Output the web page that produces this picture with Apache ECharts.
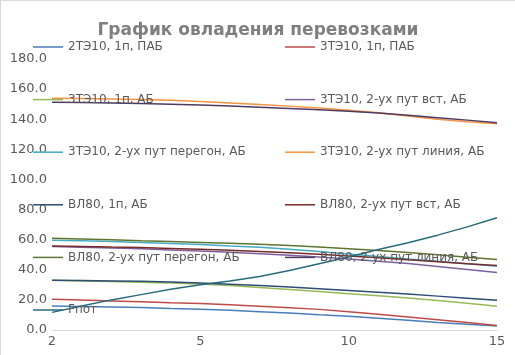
<!DOCTYPE html>
<html>
<head>
<meta charset="utf-8">
<script src="https://cdn.jsdelivr.net/npm/echarts@6/dist/echarts.min.js"></script>
<style>
  html, body { margin: 0; padding: 0; background: #fff; }
  #chart { width: 515px; height: 355px; box-sizing: border-box; border-top: 1px solid #d9d9d9; border-left: 1px solid #d9d9d9; }
</style>
</head>
<body>
<div id="chart"></div>
<script>
// значения по оси X (подписи показываются только у 2, 5, 10, 15)
const categories = ['2', '2.6', '3.2', '3.8', '4.4', '5', '6', '7', '8', '9', '10', '11', '12', '13', '14', '15'];

const names = [
  '2ТЭ10, 1п, ПАБ', '3ТЭ10, 1п, ПАБ', '3ТЭ10, 1п, АБ', '3ТЭ10, 2-ух пут вст, АБ',
  '3ТЭ10, 2-ух пут перегон, АБ', '3ТЭ10, 2-ух пут линия, АБ', 'ВЛ80, 1п, АБ', 'ВЛ80, 2-ух пут вст, АБ',
  'ВЛ80, 2-ух пут перегон, АБ', 'ВЛ80, 2-ух пут линия, АБ', 'Fпот'
];

const te2_1p_pab = [15.9, 15.6, 15.3, 15.0, 14.3, 13.7, 13.1, 12.2, 11.3, 10.2, 9.2, 7.8, 6.4, 5.0, 3.8, 2.6];
const te3_1p_pab = [20.4, 19.9, 19.3, 18.7, 18.1, 17.6, 16.8, 15.8, 14.8, 13.7, 12.2, 10.4, 8.6, 6.8, 5.0, 3.0];
const te3_1p_ab = [33.0, 32.6, 32.2, 31.7, 31.2, 30.6, 29.6, 28.3, 26.9, 25.5, 24.1, 22.7, 21.2, 19.6, 17.7, 15.7];
const te3_vst_ab = [55.4, 55.0, 54.5, 53.9, 53.2, 52.5, 51.6, 50.7, 49.7, 48.5, 47.2, 45.7, 44.1, 42.2, 40.2, 38.2];
const te3_peregon_ab = [59.6, 59.2, 58.7, 58.2, 57.5, 56.8, 55.8, 54.9, 53.6, 52.1, 50.5, 48.9, 47.2, 45.6, 44.0, 42.4];
const te3_liniya_ab = [154.0, 153.8, 153.5, 153.1, 152.6, 151.8, 150.8, 149.8, 148.7, 147.4, 146.0, 144.3, 142.2, 140.0, 138.4, 137.0];
const vl80_1p_ab = [33.0, 32.8, 32.6, 32.3, 31.8, 31.2, 30.4, 29.5, 28.5, 27.4, 26.3, 25.1, 23.9, 22.5, 21.1, 19.7];
const vl80_vst_ab = [55.8, 55.5, 55.1, 54.8, 54.2, 53.6, 52.9, 52.2, 51.3, 50.3, 49.2, 48.0, 46.6, 45.3, 44.0, 42.8];
const vl80_peregon_ab = [61.0, 60.5, 60.0, 59.3, 58.8, 58.2, 57.6, 57.0, 56.2, 55.2, 54.0, 52.8, 51.4, 49.9, 48.4, 46.8];
const vl80_liniya_ab = [151.3, 151.1, 150.8, 150.4, 150.0, 149.4, 148.7, 148.0, 147.2, 146.3, 145.3, 144.1, 142.6, 141.0, 139.4, 137.7];
const fpot = [11.7, 16.0, 20.0, 23.5, 27.0, 30.0, 32.5, 35.5, 39.5, 44.0, 48.5, 53.5, 58.0, 63.0, 68.5, 74.6];

const values = [te2_1p_pab, te3_1p_pab, te3_1p_ab, te3_vst_ab, te3_peregon_ab, te3_liniya_ab,
  vl80_1p_ab, vl80_vst_ab, vl80_peregon_ab, vl80_liniya_ab, fpot];

// палитра как в Excel
const colors = ['#4a7ebb', '#be4b48', '#98b954', '#7d60a0', '#46aac5', '#f69240',
  '#2c4d75', '#772c2a', '#5f7530', '#4d3b62', '#276a7c'];

const myChart = echarts.init(document.getElementById('chart'));

const legendBase = {
  orient: 'vertical',
  icon: 'rect',
  itemWidth: 30,
  itemHeight: 1.5,
  itemGap: 38.6,
  textStyle: { color: '#595959', fontSize: 12, fontFamily: 'DejaVu Sans', lineHeight: 14 }
};

const option = {
  animation: false,
  color: colors,
  title: {
    text: 'График овладения перевозками',
    left: 'center',
    top: 16,
    textStyle: { color: '#7f7f7f', fontSize: 17, fontWeight: 'bold', fontFamily: 'DejaVu Sans' }
  },
  legend: [
    Object.assign({}, legendBase, { left: 27, top: 34, data: names.filter((n, i) => i % 2 === 0) }),
    Object.assign({}, legendBase, { left: 279, top: 34, data: names.filter((n, i) => i % 2 === 1) })
  ],
  grid: { left: 51, right: 18, top: 58, bottom: 25 },
  xAxis: {
    type: 'category',
    boundaryGap: false,
    data: categories,
    axisLine: { lineStyle: { color: '#d9d9d9' } },
    axisTick: { show: false },
    axisLabel: { interval: 4, margin: 5, color: '#595959', fontSize: 13, fontFamily: 'DejaVu Sans' }
  },
  yAxis: {
    type: 'value',
    min: 0,
    max: 180,
    interval: 20,
    splitLine: { show: false },
    axisLine: { show: false },
    axisTick: { show: false },
    axisLabel: { margin: 5, color: '#595959', fontSize: 13, fontFamily: 'DejaVu Sans', formatter: v => v.toFixed(1) }
  },
  series: names.map((name, i) => ({
    name: name,
    type: 'line',
    data: values[i],
    showSymbol: false,
    symbol: 'none',
    lineStyle: { width: 1.5 }
  }))
};

option && myChart.setOption(option);
</script>
</body>
</html>
